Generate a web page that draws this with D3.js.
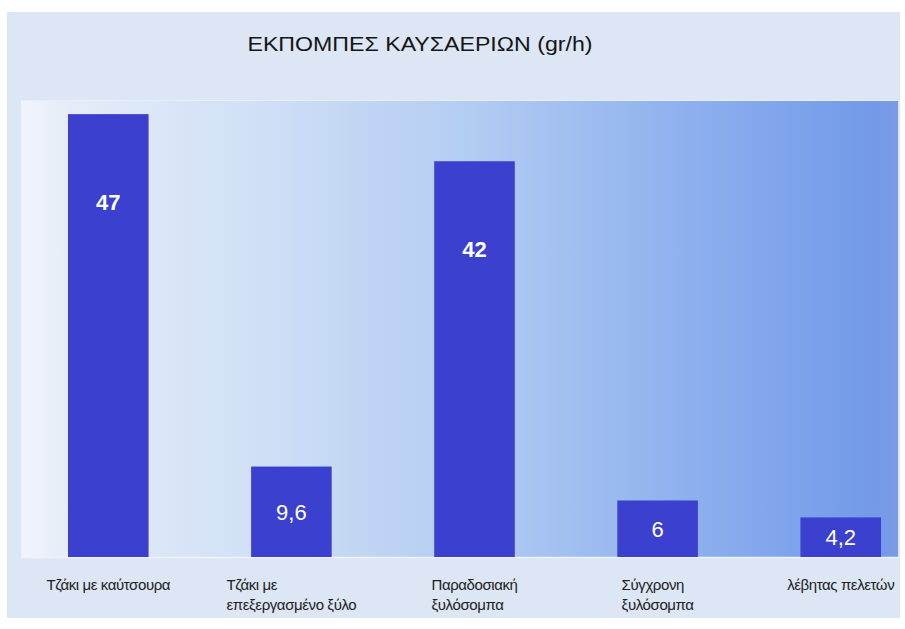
<!DOCTYPE html>
<html>
<head>
<meta charset="utf-8">
<script src="https://cdn.jsdelivr.net/npm/d3@7"></script>
<style>
  html, body { margin: 0; padding: 0; background: #ffffff; }
  svg { display: block; }
  text { font-family: "Liberation Sans", Arial, sans-serif; }
</style>
</head>
<body>
<svg id="chart" width="905" height="629"></svg>
<script>
const title = "ΕΚΠΟΜΠΕΣ ΚΑΥΣΑΕΡΙΩΝ (gr/h)";
const categories = [
  ["Τζάκι με καύτσουρα"],
  ["Τζάκι με", "επεξεργασμένο ξύλο"],
  ["Παραδοσιακή", "ξυλόσομπα"],
  ["Σύγχρονη", "ξυλόσομπα"],
  ["λέβητας πελετών"]
];
const values = [47, 9.6, 42, 6, 4.2];
const valueLabels = ["47", "9,6", "42", "6", "4,2"];

const svg = d3.select("#chart");
const panel = {x: 7, y: 12, w: 893, h: 606};
const plot = {left: 21, right: 898, top: 100, bottom: 557};

const defs = svg.append("defs");
const grad = defs.append("linearGradient").attr("id", "plotGrad")
  .attr("x1", "0%").attr("x2", "100%").attr("y1", "0%").attr("y2", "0%");
[[0, "#f1f4fb"], [0.06, "#e4ecf8"], [0.25, "#d2e1f6"], [0.5, "#b4cdf2"], [0.75, "#8fb1ee"], [0.97, "#729ae8"], [1, "#7b9be6"]]
  .forEach(([o, c]) => grad.append("stop").attr("offset", o).attr("stop-color", c));

svg.append("rect").attr("x", panel.x).attr("y", panel.y).attr("width", panel.w).attr("height", panel.h)
  .attr("fill", "#dce6f5");

svg.append("rect").attr("x", plot.left).attr("y", plot.top)
  .attr("width", plot.right - plot.left).attr("height", plot.bottom - plot.top)
  .attr("fill", "url(#plotGrad)");
svg.append("line").attr("x1", plot.left).attr("x2", plot.right)
  .attr("y1", plot.bottom + 0.5).attr("y2", plot.bottom + 0.5)
  .attr("stroke", "#eef3fb").attr("stroke-width", 1.5);
svg.append("line").attr("x1", plot.left).attr("x2", plot.right)
  .attr("y1", plot.top + 0.5).attr("y2", plot.top + 0.5)
  .attr("stroke", "#e6eefa").attr("stroke-width", 1);

const x = d3.scaleBand().domain(d3.range(values.length))
  .range([68, 881]).paddingInner(0.56).paddingOuter(0);
const y = d3.scaleLinear().domain([0, 48.5]).range([plot.bottom, plot.top]);

svg.append("text").attr("x", 420).attr("y", 51).attr("text-anchor", "middle")
  .attr("font-size", 20).attr("fill", "#151515")
  .attr("textLength", 345).attr("lengthAdjust", "spacingAndGlyphs")
  .text(title);

svg.append("g").selectAll("rect").data(values).join("rect")
  .attr("x", (d, i) => x(i)).attr("width", x.bandwidth())
  .attr("y", d => y(d)).attr("height", d => y(0) - y(d))
  .attr("fill", "#3b40cf");

svg.append("g").selectAll("text").data(values).join("text")
  .attr("x", (d, i) => x(i) + x.bandwidth() / 2)
  .attr("y", d => Math.min((y(d) + y(0)) / 2, y(d) + 88))
  .attr("dy", "0.36em")
  .attr("text-anchor", "middle").attr("font-size", 22).attr("fill", "#ffffff")
  .attr("font-weight", d => d > 20 ? "bold" : "normal")
  .text((d, i) => valueLabels[i]);

const catG = svg.append("g");
categories.forEach((lines, i) => {
  const g = catG.append("g");
  const t = g.append("text").attr("font-size", 15).attr("fill", "#222")
    .attr("letter-spacing", "-0.4px");
  lines.forEach((ln, j) => {
    t.append("tspan").attr("x", 0).attr("y", 590 + j * 20).text(ln);
  });
  let maxW = 0;
  t.selectAll("tspan").each(function() { maxW = Math.max(maxW, this.getComputedTextLength()); });
  const cx = x(i) + x.bandwidth() / 2;
  g.attr("transform", `translate(${cx - maxW / 2},0)`);
});
</script>
</body>
</html>
